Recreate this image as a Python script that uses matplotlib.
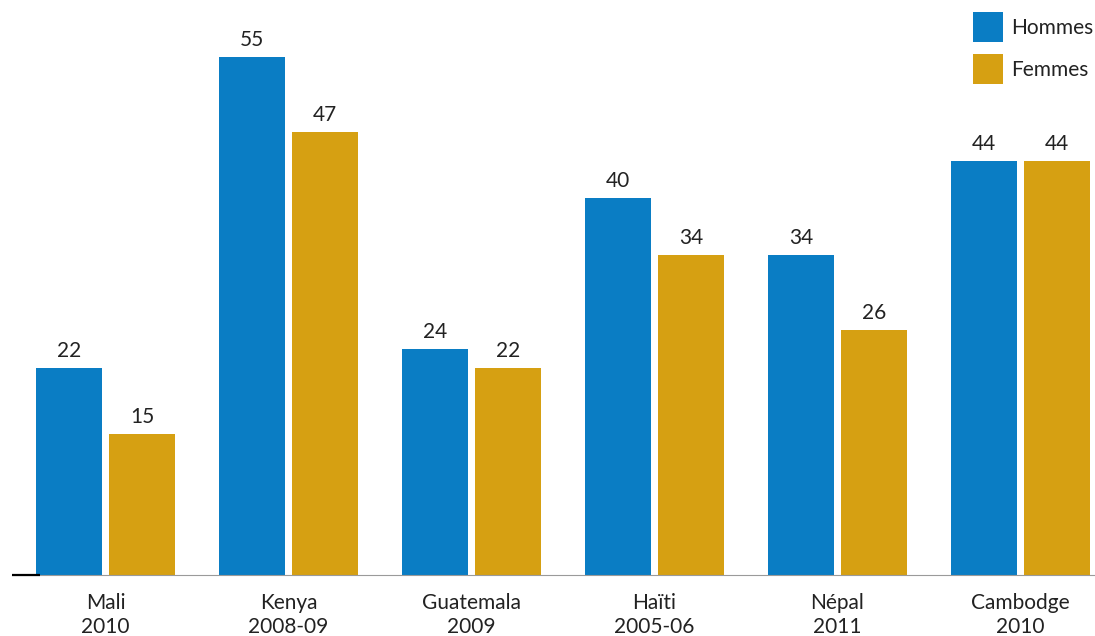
import matplotlib.pyplot as plt
import numpy as np

plt.rcParams['font.family'] = ['Lato', 'DejaVu Sans']

pays = ["Mali\n2010", "Kenya\n2008-09", "Guatemala\n2009", "Haïti\n2005-06", "Népal\n2011", "Cambodge\n2010"]
hommes = [22, 55, 24, 40, 34, 44]
femmes = [15, 47, 22, 34, 26, 44]

bleu = "#0A7DC4"
or_ = "#D6A012"
texte = "#222222"

fig = plt.figure(figsize=(10.95, 6.36), dpi=100)
ax = fig.add_axes([12 / 1095, 61 / 636, 1 - 12 / 1095, 575 / 636])

x = np.arange(len(pays))
w = 66 / 183
off = 36.5 / 183

b1 = ax.bar(x - off, hommes, w, color=bleu, label="Hommes")
b2 = ax.bar(x + off, femmes, w, color=or_, label="Femmes")

for bars, vals in [(b1, hommes), (b2, femmes)]:
    for b, v in zip(bars, vals):
        ax.annotate(str(v), (b.get_x() + b.get_width() / 2, v), xytext=(0, 5),
                    textcoords="offset points", ha="center", va="bottom",
                    fontsize=15, color=texte)

ax.set_xlim(-93.5 / 183, 989.5 / 183)
ax.set_ylim(0, 575 / 9.42)

ax.set_xticks(x)
ax.set_xticklabels(pays, fontsize=15, color=texte)
for lab in ax.get_xticklabels():
    lab.set_linespacing(1.25)
ax.tick_params(axis="x", length=0, pad=13)
ax.set_yticks([])

for s in ["top", "right", "left"]:
    ax.spines[s].set_visible(False)
ax.spines["bottom"].set_color("#9a9a9a")
ax.spines["bottom"].set_linewidth(0.8)

# petit trait noir à gauche de l'axe
ax.plot([-93.5 / 183, -65.5 / 183], [0, 0], color="black", lw=1.6,
        solid_capstyle="butt", clip_on=False, zorder=5)

fig.legend(handles=[b1, b2], labels=["Hommes", "Femmes"], loc="upper right",
           bbox_to_anchor=(1093 / 1095, 1 - 12 / 636), frameon=False,
           fontsize=15, handlelength=1.45, handleheight=1.84,
           labelspacing=0.58, handletextpad=0.35, borderpad=0, borderaxespad=0,
           labelcolor=texte)

fig.savefig("out.png", dpi=100)
